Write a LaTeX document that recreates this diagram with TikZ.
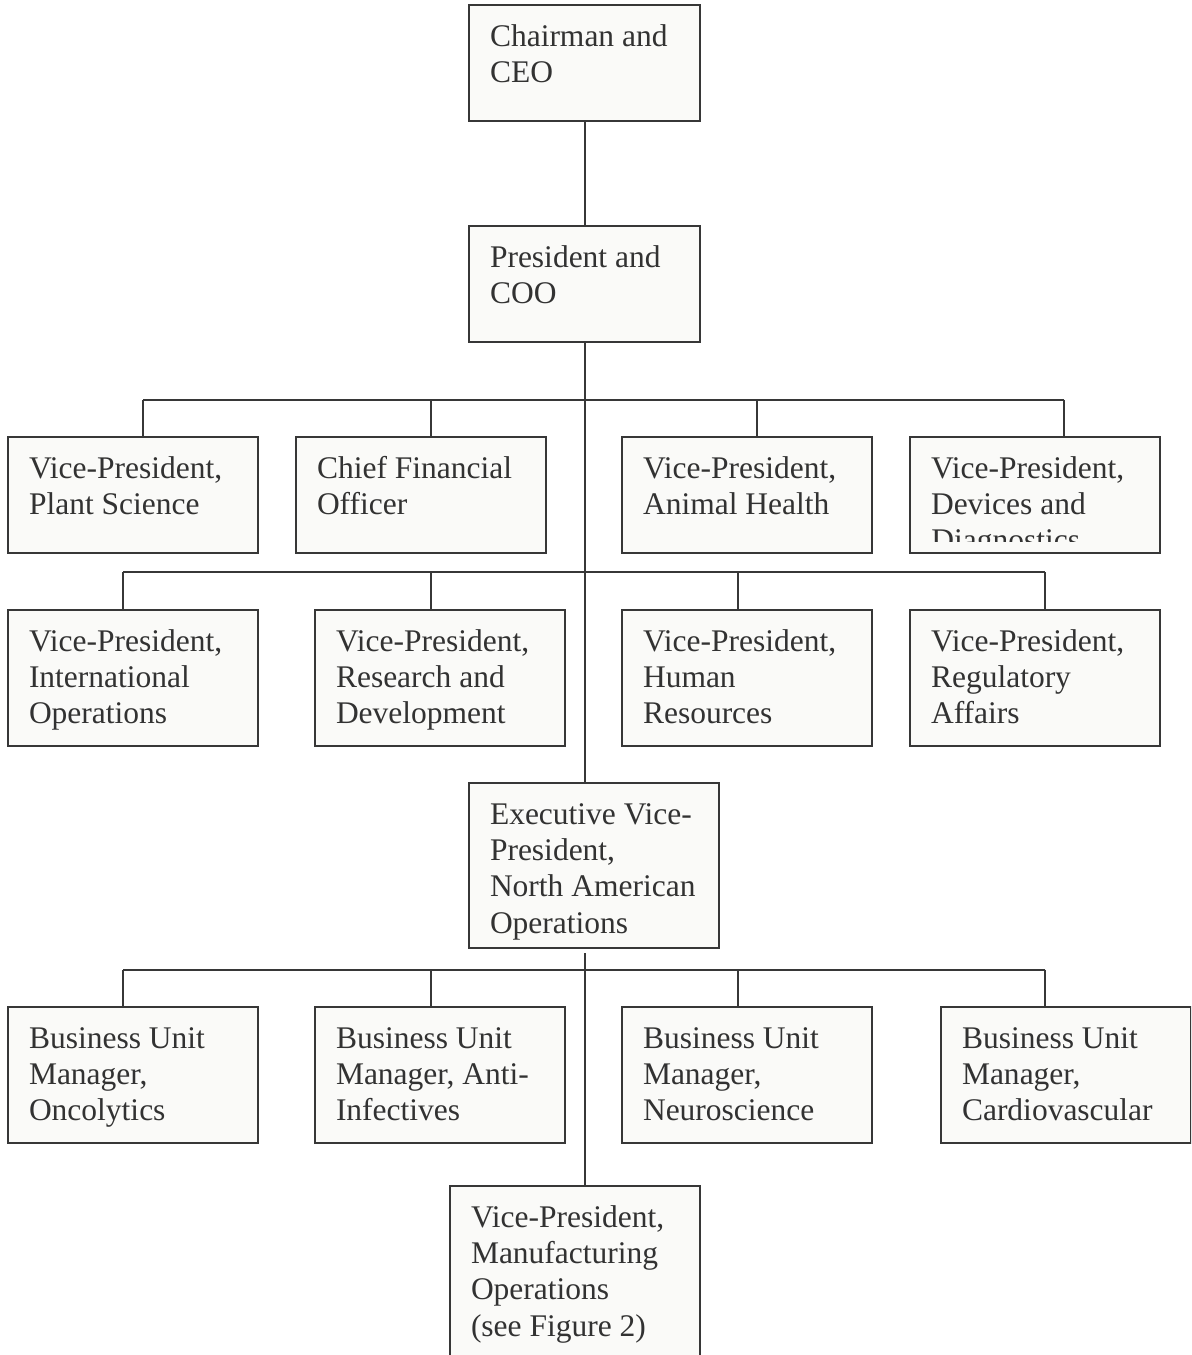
\documentclass[tikz,border=0pt]{standalone}
\usepackage{fontspec}
\setmainfont{Liberation Serif}
\usepackage{xcolor}
\usepackage{tikz}
\definecolor{boxfill}{RGB}{250,250,248}
\definecolor{linegray}{RGB}{55,55,55}
\definecolor{textgray}{RGB}{50,50,50}

\begin{document}
\begin{tikzpicture}[x=0.5pt,y=-0.5pt,every text node part/.style={align=flush left},
  txt/.style={text=textgray,font=\fontsize{15.75pt}{18.2pt}\selectfont},
  post/.style={txt,rectangle,draw=linegray,fill=boxfill,line width=1pt,outer sep=0pt,
    anchor=north west,inner xsep=10.5pt,inner ysep=8.5pt,text height=12pt,text width=104pt},
  line/.style={draw=linegray,line width=1pt}]
  \useasboundingbox (0,0) rectangle (1191,1355);
  \clip (0,0) rectangle (1191,1355);

  \node[post,text width=94.5pt,text depth=29pt] (0) at (469,5) {Chairman and\\CEO};
  \node[post,text width=94.5pt,text depth=29pt] (1) at (469,226) {President and\\COO};

  \node[post,text depth=29pt] (2) at (8,437) {Vice-President,\\Plant Science};
  \node[post,text depth=29pt] (3) at (296,437) {Chief Financial\\Officer};
  \node[post,text depth=29pt] (4) at (622,437) {Vice-President,\\Animal Health};
  \node[post,text depth=29pt] (5) at (910,437) {Vice-President,\\Devices and};
  \begin{scope}
    \clip (910,437) rectangle (1160,541.5);
    \node[txt,anchor=base west,inner sep=0pt] (5c) at (931,550.8) {Diagnostics};
  \end{scope}

  \node[post,text depth=39pt] (6) at (8,610) {Vice-President,\\International\\Operations};
  \node[post,text depth=39pt] (7) at (315,610) {Vice-President,\\Research and\\Development};
  \node[post,text depth=39pt] (8) at (622,610) {Vice-President,\\Human\\Resources};
  \node[post,text depth=39pt] (9) at (910,610) {Vice-President,\\Regulatory\\Affairs};

  \node[post,text depth=53.5pt] (10) at (469,783) {Executive Vice-\\President,\\North American\\Operations};

  \node[post,text depth=39pt] (11) at (8,1007) {Business Unit\\Manager,\\Oncolytics};
  \node[post,text depth=39pt] (12) at (315,1007) {Business Unit\\Manager, Anti-\\Infectives};
  \node[post,text depth=39pt] (13) at (622,1007) {Business Unit\\Manager,\\Neuroscience};
  \node[post,text depth=39pt] (14) at (941,1007) {Business Unit\\Manager,\\Cardiovascular};

  \node[post,text depth=80pt] (15) at (450,1186) {Vice-President,\\Manufacturing\\Operations\\(see Figure 2)};

  \draw[line] (0) -- (1);
  \draw[line] (1.south) -- (1.south |- 10.north);

  \foreach \n/\x in {2/143,3/431,4/757,5/1064}{
    \coordinate (j\n) at (\x,399.5);
    \draw[line] (j\n) -- (\n.north -| j\n);
  }
  \draw[line] (j2) -- (j5);

  \foreach \n/\x in {6/123,7/431,8/738,9/1045}{
    \coordinate (j\n) at (\x,572);
    \draw[line] (j\n) -- (\n.north -| j\n);
  }
  \draw[line] (j6) -- (j9);

  \foreach \n/\x in {11/123,12/431,13/738,14/1045}{
    \coordinate (j\n) at (\x,969.5);
    \draw[line] (j\n) -- (\n.north -| j\n);
  }
  \draw[line] (j11) -- (j14);

  \draw[line] ([yshift=-2.5pt]10.south -| 1.south) -- (15.north -| 1.south);

\end{tikzpicture}
\end{document}
